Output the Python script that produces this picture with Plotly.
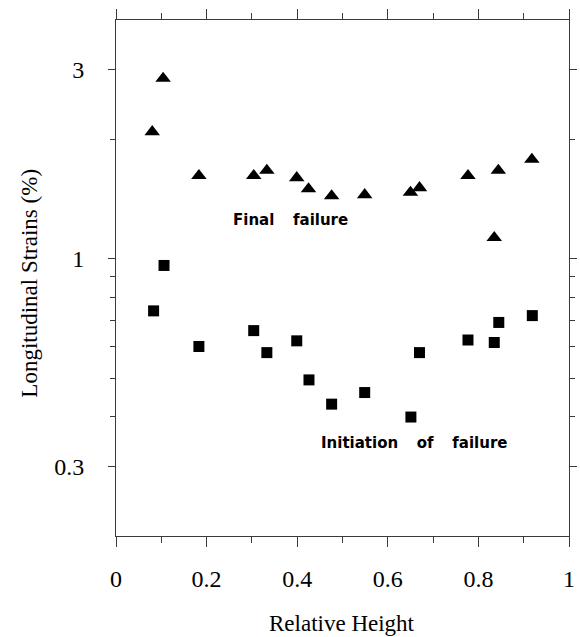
import math
import plotly.graph_objects as go

# Final failure (triangles)
x_final = [0.080, 0.104, 0.183, 0.304, 0.333, 0.399, 0.425, 0.476, 0.549, 0.650, 0.670, 0.777, 0.835, 0.844, 0.918]
y_final = [2.09, 2.85, 1.62, 1.62, 1.67, 1.60, 1.50, 1.44, 1.45, 1.47, 1.51, 1.62, 1.13, 1.67, 1.78]

# Initiation of failure (squares)
x_init = [0.083, 0.106, 0.183, 0.304, 0.333, 0.399, 0.426, 0.476, 0.549, 0.651, 0.670, 0.777, 0.835, 0.845, 0.919]
y_init = [0.739, 0.962, 0.601, 0.659, 0.580, 0.621, 0.495, 0.430, 0.460, 0.399, 0.580, 0.624, 0.615, 0.691, 0.719]

x_ticks = [0, 0.2, 0.4, 0.6, 0.8, 1]
x_ticklabels = ["0", "0.2", "0.4", "0.6", "0.8", "1"]
x_minor = [0.1, 0.3, 0.5, 0.7, 0.9]
y_ticks = [0.3, 1, 3]
y_ticklabels = ["0.3", "1", "3"]
y_minor = [0.4, 0.5, 0.6, 0.7, 0.8, 0.9, 2]

AX = "#3a3a3a"
serif = "Liberation Serif, Times New Roman, serif"
sans = "DejaVu Sans, sans-serif"
sp = "\u00a0\u00a0\u00a0\u2009"

fig = go.Figure()
fig.add_trace(go.Scatter(x=x_final, y=y_final, mode="markers",
                         marker=dict(symbol="triangle-up", size=13.5, color="black", line=dict(width=0)),
                         showlegend=False))
fig.add_trace(go.Scatter(x=x_init, y=y_init, mode="markers",
                         marker=dict(symbol="square", size=11, color="black", line=dict(width=0)),
                         showlegend=False))

fig.update_layout(
    width=580, height=637,
    margin=dict(l=116, r=3, t=20, b=101),
    paper_bgcolor="white", plot_bgcolor="white",
    font=dict(family=serif, color="black"),
    xaxis=dict(range=[0, 1], showgrid=False, zeroline=False,
               showline=True, linecolor=AX, linewidth=1, mirror="allticks",
               ticks="outside", ticklen=10, tickcolor=AX, tickwidth=1,
               tickvals=x_ticks, ticktext=x_ticklabels,
               tickfont=dict(family=serif, size=24, color="black"),
               ticklabelstandoff=11,
               minor=dict(tickvals=x_minor, ticks="outside", ticklen=6, tickcolor=AX, tickwidth=1)),
    yaxis=dict(type="log", range=[math.log10(0.2), math.log10(4)], showgrid=False, zeroline=False,
               showline=True, linecolor=AX, linewidth=1, mirror="allticks",
               ticks="outside", ticklen=7, tickcolor=AX, tickwidth=1,
               tickvals=y_ticks, ticktext=y_ticklabels,
               tickfont=dict(family=serif, size=24, color="black"),
               ticklabelstandoff=19,
               minor=dict(tickvals=y_minor, ticks="outside", ticklen=5, tickcolor=AX, tickwidth=1)),
)

fig.add_annotation(x=0.385, y=math.log10(1.254), xref="x", yref="y",
                   text="Final" + sp + "failure", showarrow=False,
                   font=dict(family=sans, size=15, color="black", weight="bold"))
fig.add_annotation(x=0.658, y=math.log10(0.343), xref="x", yref="y",
                   text="Initiation" + sp + "of" + sp + "failure", showarrow=False,
                   font=dict(family=sans, size=15, color="black", weight="bold"))

fig.add_annotation(x=0.499, y=-0.169, xref="paper", yref="paper",
                   text="Relative Height", showarrow=False,
                   xanchor="center", yanchor="middle",
                   font=dict(family=serif, size=23, color="black"))
fig.add_annotation(x=-0.191, y=0.49, xref="paper", yref="paper",
                   text="Longitudinal Strains (%)", showarrow=False, textangle=-90,
                   xanchor="center", yanchor="middle",
                   font=dict(family=serif, size=23, color="black"))

fig.write_html("out.html")
